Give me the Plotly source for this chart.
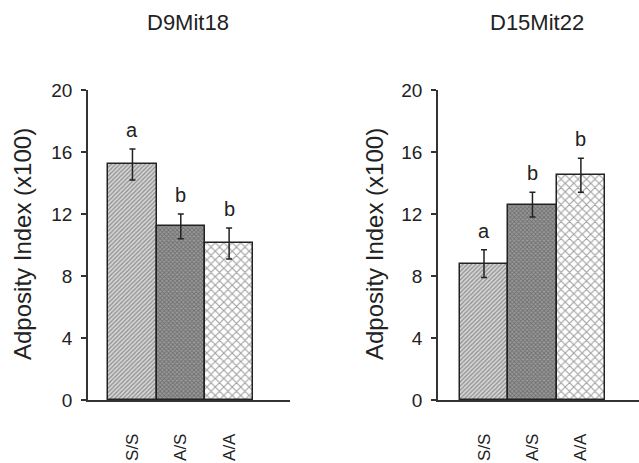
import plotly.graph_objects as go

genotypes = ["S/S", "A/S", "A/A"]
panel_titles = ["D9Mit18", "D15Mit22"]
d9_means = [15.2, 11.2, 10.1]
d9_errs = [1.0, 0.8, 1.0]
d9_letters = ["a", "b", "b"]
d15_means = [8.8, 12.6, 14.5]
d15_errs = [0.9, 0.8, 1.1]
d15_letters = ["a", "b", "b"]
y_ticks = [0, 4, 8, 12, 16, 20]
y_title = "Adposity Index (x100)"

FONT = "Liberation Sans, Arial, Helvetica, sans-serif"
pattern = dict(
    shape=["/", "x", "x"],
    fgcolor=["#5a5a5a", "#333333", "#555555"],
    bgcolor=["#d6d6d6", "#9a9a9a", "#ffffff"],
    size=[3, 3, 6],
    solidity=[0.4, 0.5, 0.35],
    fillmode="overlay",
)

fig = go.Figure()
xs = [0, 1, 2]
panels = [(d9_means, d9_errs, d9_letters, "x", "y"),
          (d15_means, d15_errs, d15_letters, "x2", "y2")]
for means, errs, letters, xa, ya in panels:
    fig.add_trace(go.Bar(
        x=xs, y=means, width=1.0, xaxis=xa, yaxis=ya,
        marker=dict(color=pattern["bgcolor"], line=dict(color="#222222", width=1.5),
                    pattern=pattern),
        error_y=dict(type="data", array=errs, color="#222222", thickness=1.5, width=3),
        showlegend=False, hoverinfo="skip",
    ))
    for i, (m, e, t) in enumerate(zip(means, errs, letters)):
        fig.add_annotation(x=xs[i], y=m + e, xref=xa, yref=ya, text=t, showarrow=False,
                           yanchor="bottom", yshift=6,
                           font=dict(family=FONT, size=20, color="#222222"))

ydom = [1 - 400 / 463, 1 - 90 / 463]
axis_common = dict(showgrid=False, zeroline=False, showline=True, linecolor="#333333",
                   linewidth=1.5, automargin=False)
fig.update_layout(
    width=639, height=463,
    margin=dict(l=0, r=0, t=0, b=0, pad=0, autoexpand=False),
    paper_bgcolor="white", plot_bgcolor="white",
    bargap=0,
    font=dict(family=FONT, color="#222222"),
    xaxis=dict(domain=[88 / 639, 290 / 639], range=[-0.92, 3.26],
               tickvals=xs, ticktext=genotypes, tickangle=-90, ticks="",
               ticklabelstandoff=25, tickfont=dict(size=17), anchor="y", **axis_common),
    yaxis=dict(domain=ydom, range=[0, 20], tickvals=y_ticks, ticks="outside", ticklen=5,
               tickwidth=1.5, tickcolor="#333333", ticklabelstandoff=5,
               tickfont=dict(size=19), anchor="x", **axis_common),
    xaxis2=dict(domain=[438 / 639, 1.0], range=[-0.95, 3.2],
                tickvals=xs, ticktext=genotypes, tickangle=-90, ticks="",
                ticklabelstandoff=25, tickfont=dict(size=17), anchor="y2", **axis_common),
    yaxis2=dict(domain=ydom, range=[0, 20], tickvals=y_ticks, ticks="outside", ticklen=5,
                tickwidth=1.5, tickcolor="#333333", ticklabelstandoff=5,
                tickfont=dict(size=19), anchor="x2", **axis_common),
)

# panel titles
for cx, t in zip([188 / 639, 537 / 639], panel_titles):
    fig.add_annotation(x=cx, y=1 - 22 / 463, xref="paper", yref="paper", text=t,
                       xanchor="center", yanchor="middle",
                       showarrow=False, font=dict(family=FONT, size=22, color="#222222"))
# y-axis titles
for cx in [22 / 639, 374 / 639]:
    fig.add_annotation(x=cx, y=1 - 244 / 463, xref="paper", yref="paper", text=y_title,
                       xanchor="center", yanchor="middle",
                       textangle=-90, showarrow=False,
                       font=dict(family=FONT, size=24, color="#222222"))

fig.write_html("out.html", config={"displayModeBar": False},
               post_script="document.body.style.margin='0';document.body.style.overflow='hidden';")
